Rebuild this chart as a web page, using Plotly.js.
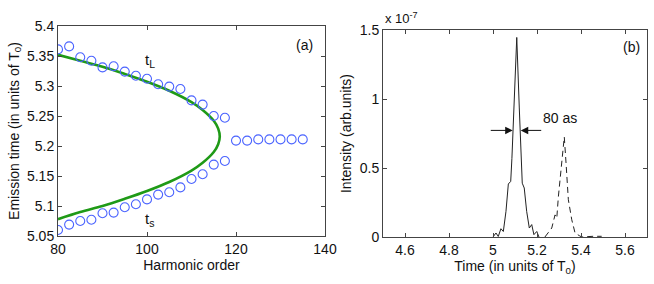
<!DOCTYPE html>
<html>
<head>
<meta charset="utf-8">
<script src="https://cdn.plot.ly/plotly-3.0.1.min.js"></script>
<style>html,body{margin:0;padding:0;background:#fff;}#chart{width:654px;height:284px;}</style>
</head>
<body>
<div id="chart"></div>
<script>
// ---- Panel (a): emission time vs harmonic order ----
const longHarm = [80, 82.5, 85, 87.5, 90, 92.5, 95, 97.5, 100, 102.5, 105, 107.5, 110, 112.5, 115, 117.5];
const longTime = [5.361, 5.366, 5.348, 5.342, 5.331, 5.333, 5.324, 5.317, 5.312, 5.303, 5.299, 5.295, 5.276, 5.269, 5.250, 5.247];
const shortHarm = [80, 82.5, 85, 87.5, 90, 92.5, 95, 97.5, 100, 102.5, 105, 107.5, 110, 112.5, 115, 117.5];
const shortTime = [5.060, 5.069, 5.075, 5.077, 5.088, 5.089, 5.098, 5.103, 5.111, 5.119, 5.123, 5.131, 5.145, 5.153, 5.169, 5.175];
const cutoffHarm = [120, 122.5, 125, 127.5, 130, 132.5, 135];
const cutoffTime = [5.209, 5.209, 5.211, 5.211, 5.211, 5.211, 5.211];
// classical curve (green), read along the line from upper-left, round the tip, back to lower-left
const classHarm = [80, 85, 90, 95, 100, 105, 110, 112.5, 115, 116, 116.35, 116, 115, 112.5, 110, 105, 100, 95, 90, 85, 80];
const classTime = [5.352, 5.342, 5.332, 5.320, 5.307, 5.292, 5.273, 5.260, 5.242, 5.229, 5.216, 5.203, 5.190, 5.172, 5.159, 5.140, 5.125, 5.112, 5.100, 5.090, 5.078];

// ---- Panel (b): attosecond pulses (units of 1e-7) ----
const solidT = [5.0015, 5.0136, 5.024, 5.036, 5.047, 5.059, 5.0697, 5.0805, 5.086, 5.095, 5.108, 5.1195, 5.129, 5.133, 5.142, 5.153, 5.165, 5.176, 5.186, 5.199, 5.209];
const solidI = [0.004, 0.029, 0.004, 0.06, 0.04, 0.186, 0.384, 0.403, 0.57, 0.935, 1.446, 0.935, 0.57, 0.39, 0.355, 0.186, 0.065, 0.09, 0.017, 0.04, 0.0];
const dashT = [5.236, 5.267, 5.282, 5.290, 5.297, 5.308, 5.320, 5.324, 5.332, 5.3425, 5.358, 5.373, 5.392, 5.403, 5.455, 5.494];
const dashI = [0.0, 0.065, 0.16, 0.137, 0.29, 0.49, 0.705, 0.725, 0.536, 0.27, 0.125, 0.029, 0.01, 0.0, 0.005, 0.005];

const leftXTicks = [80, 100, 120, 140];
const leftYTicks = [5.05, 5.1, 5.15, 5.2, 5.25, 5.3, 5.35, 5.4];
const leftYText = ['5.05', '5.1', '5.15', '5.2', '5.25', '5.3', '5.35', '5.4'];
const rightXTicks = [4.6, 4.8, 5, 5.2, 5.4, 5.6];
const rightXText = ['4.6', '4.8', '5', '5.2', '5.4', '5.6'];
const rightYTicks = [0, 0.5, 1, 1.5];
const rightYText = ['0', '0.5', '1', '1.5'];

const FONT = 'Liberation Sans, Arial, Helvetica, sans-serif';
const circ = {symbol: 'circle-open', size: 9, color: '#4a63ff', line: {width: 1.1, color: '#4a63ff'}};

const traces = [
  {x: classHarm, y: classTime, mode: 'lines', line: {color: '#1f9a17', width: 2.6, shape: 'spline', smoothing: 1}, xaxis: 'x', yaxis: 'y', hoverinfo: 'skip'},
  {x: longHarm, y: longTime, mode: 'markers', marker: circ, xaxis: 'x', yaxis: 'y'},
  {x: shortHarm, y: shortTime, mode: 'markers', marker: circ, xaxis: 'x', yaxis: 'y'},
  {x: cutoffHarm, y: cutoffTime, mode: 'markers', marker: circ, xaxis: 'x', yaxis: 'y'},
  {x: solidT, y: solidI, mode: 'lines', line: {color: '#222', width: 1}, xaxis: 'x2', yaxis: 'y2'},
  {x: dashT, y: dashI, mode: 'lines', line: {color: '#222', width: 1, dash: '6px,4px'}, xaxis: 'x2', yaxis: 'y2'}
];

const axBase = {
  showgrid: false, zeroline: false, showline: true, linecolor: '#444', linewidth: 1,
  ticks: 'inside', ticklen: 4, tickcolor: '#444', mirror: 'ticks',
  tickfont: {family: FONT, size: 14, color: '#111'}
};

const layout = {
  width: 654, height: 284,
  margin: {l: 0, r: 0, t: 0, b: 0},
  paper_bgcolor: '#fff', plot_bgcolor: '#fff',
  showlegend: false,
  font: {family: FONT, size: 14, color: '#111'},
  xaxis: Object.assign({}, axBase, {domain: [58/654, 325/654], range: [80, 140], tickvals: leftXTicks, anchor: 'y',
    title: {text: 'Harmonic order', font: {family: FONT, size: 14, color: '#111'}, standoff: 4}}),
  yaxis: Object.assign({}, axBase, {domain: [48/284, 258/284], range: [5.05, 5.4], tickvals: leftYTicks, ticktext: leftYText, anchor: 'x',
    title: {text: 'Emission time (in units of T<sub>0</sub>)', font: {family: FONT, size: 14, color: '#111'}, standoff: 4}}),
  xaxis2: Object.assign({}, axBase, {domain: [383/654, 647/654], range: [4.5, 5.7], tickvals: rightXTicks, ticktext: rightXText, anchor: 'y2',
    title: {text: 'Time (in units of T<sub>0</sub>)', font: {family: FONT, size: 14, color: '#111'}, standoff: 2}}),
  yaxis2: Object.assign({}, axBase, {domain: [47/284, 254/284], range: [0, 1.5], tickvals: rightYTicks, ticktext: rightYText, anchor: 'x2',
    title: {text: 'Intensity (arb.units)', font: {family: FONT, size: 14, color: '#111'}, standoff: 4}}),
  annotations: [
    {xref: 'x', yref: 'y', x: 135.5, y: 5.368, text: '(a)', showarrow: false, font: {size: 14}},
    {xref: 'x', yref: 'y', x: 100.6, y: 5.343, text: 't<sub>L</sub>', showarrow: false, font: {size: 15}},
    {xref: 'x', yref: 'y', x: 100.6, y: 5.078, text: 't<sub>s</sub>', showarrow: false, font: {size: 15}},
    {xref: 'x2', yref: 'y2', x: 5.63, y: 1.38, text: '(b)', showarrow: false, font: {size: 14}},
    {xref: 'x2', yref: 'y2', x: 5.305, y: 0.864, text: '80 as', showarrow: false, font: {size: 14}},
    {xref: 'paper', yref: 'paper', x: 383/654, y: 1 - 18/284, xanchor: 'left', yanchor: 'middle', text: 'x 10<sup>-7</sup>', showarrow: false, font: {size: 13}},
    {xref: 'x2', yref: 'y2', axref: 'x2', ayref: 'y2', x: 5.0895, y: 0.7725, ax: 4.983, ay: 0.7725, text: '', showarrow: true, arrowhead: 2, arrowsize: 1.5, arrowwidth: 1, arrowcolor: '#111'},
    {xref: 'x2', yref: 'y2', axref: 'x2', ayref: 'y2', x: 5.126, y: 0.7725, ax: 5.226, ay: 0.7725, text: '', showarrow: true, arrowhead: 2, arrowsize: 1.5, arrowwidth: 1, arrowcolor: '#111'}
  ]
};

Plotly.newPlot('chart', traces, layout, {displayModeBar: false, staticPlot: true});
</script>
</body>
</html>
